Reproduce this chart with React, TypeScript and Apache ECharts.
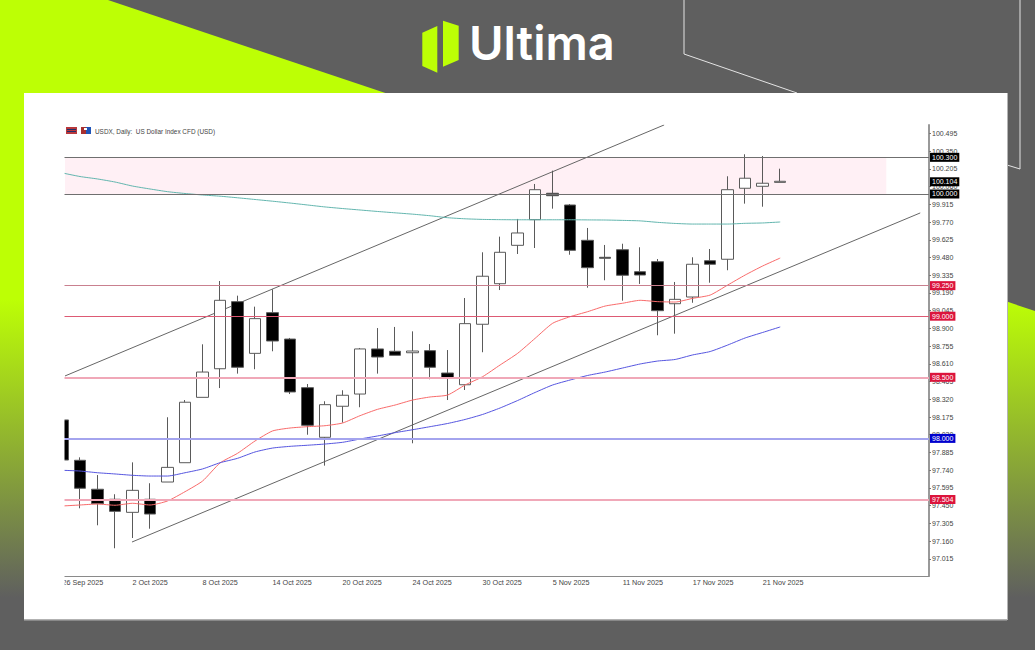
import React, { useEffect, useRef } from "react";
import * as echarts from "echarts";

const categories = [
  "26 Sep 2025","29 Sep 2025","30 Sep 2025","1 Oct 2025","2 Oct 2025","3 Oct 2025","6 Oct 2025","7 Oct 2025",
  "8 Oct 2025","9 Oct 2025","10 Oct 2025","13 Oct 2025","14 Oct 2025","15 Oct 2025","16 Oct 2025","17 Oct 2025",
  "20 Oct 2025","21 Oct 2025","22 Oct 2025","23 Oct 2025","24 Oct 2025","27 Oct 2025","28 Oct 2025","29 Oct 2025",
  "30 Oct 2025","31 Oct 2025","3 Nov 2025","4 Nov 2025","5 Nov 2025","6 Nov 2025","7 Nov 2025","10 Nov 2025",
  "11 Nov 2025","12 Nov 2025","13 Nov 2025","14 Nov 2025","17 Nov 2025","18 Nov 2025","19 Nov 2025","20 Nov 2025",
  "21 Nov 2025","24 Nov 2025","","","","","","","",""
];
const opens = [98.151,97.821,97.584,97.502,97.395,97.502,97.643,97.801,98.336,98.570,99.119,98.696,99.029,98.813,98.415,98.009,98.263,98.363,98.732,98.713,98.701,98.718,98.535,98.439,98.934,99.266,99.580,99.790,100.006,99.910,99.621,99.482,99.544,99.364,99.446,99.102,99.157,99.454,99.466,100.047,100.063,100.095];
const closes = [97.823,97.592,97.466,97.403,97.575,97.381,97.763,98.296,98.543,99.130,98.582,98.980,98.797,98.380,98.107,98.276,98.353,98.732,98.666,98.680,98.715,98.582,98.492,98.939,99.327,99.523,99.681,100.035,99.986,99.539,99.397,99.474,99.335,99.337,99.045,99.138,99.425,99.425,100.035,100.129,100.088,100.104];
const lows = [97.807,97.428,97.289,97.101,97.185,97.261,97.643,97.801,98.336,98.412,98.530,98.566,98.713,98.363,98.030,97.777,98.129,98.255,98.530,98.680,97.960,98.484,98.314,98.396,98.705,99.214,99.509,99.558,99.880,99.503,99.233,99.294,99.127,99.264,98.844,98.857,99.110,99.274,99.376,99.921,99.896,100.095];
const highs = [98.167,97.845,97.700,97.543,97.804,97.633,98.173,98.314,98.770,99.288,99.168,99.078,99.220,98.822,98.445,98.304,98.394,98.740,98.903,98.912,98.876,98.772,98.723,99.149,99.523,99.651,99.796,100.082,100.191,99.918,99.722,99.583,99.593,99.564,99.468,99.280,99.482,99.550,100.145,100.325,100.311,100.207];
const maRed = [97.447,97.455,97.463,97.453,97.469,97.455,97.488,97.564,97.651,97.799,97.878,97.979,98.061,98.085,98.096,98.104,98.126,98.186,98.238,98.273,98.314,98.339,98.355,98.437,98.505,98.601,98.696,98.819,98.942,98.996,99.037,99.083,99.106,99.130,99.119,99.116,99.146,99.173,99.255,99.337,99.411,99.476];
const maBlue = [97.739,97.733,97.719,97.709,97.698,97.692,97.692,97.719,97.750,97.801,97.837,97.889,97.921,97.935,97.944,97.954,97.968,97.995,98.020,98.047,98.071,98.096,98.122,98.155,98.196,98.249,98.310,98.376,98.437,98.478,98.515,98.543,98.576,98.609,98.633,98.646,98.683,98.711,98.764,98.822,98.867,98.912];
const maTeal = [100.172,100.143,100.123,100.098,100.065,100.041,100.019,100.004,99.992,99.982,99.969,99.955,99.941,99.926,99.910,99.894,99.881,99.869,99.857,99.846,99.835,99.822,99.806,99.797,99.792,99.790,99.789,99.789,99.789,99.789,99.788,99.787,99.784,99.780,99.768,99.759,99.754,99.754,99.754,99.760,99.763,99.771];
const yTicks = [100.495,100.35,100.205,100.06,99.915,99.77,99.625,99.48,99.335,99.19,99.045,98.9,98.755,98.61,98.465,98.32,98.175,98.03,97.885,97.74,97.595,97.45,97.305,97.16,97.015];
const levels = [100.3,100.104,100,99.25,99,98.5,98,97.504];
const levelLabels = ["100.300","100.104","100.000","99.250","99.000","98.500","98.000","97.504"];
const levelLineColors = ["#6f6f6f","transparent","#6f6f6f","#c9808f","#dd5a74","#f0a8b8","#a4a4ee","#f0a8b8"];
const levelLineWidths = [1,1,1,1,1,2,2,2];
const levelTagColors = ["#000000","#000000","#000000","#dc143c","#dc143c","#dc143c","#0000cd","#dc143c"];
const upperTrend = [[0.143,98.511],[34.37,100.565]];
const lowerTrend = [[3.97,97.152],[49.0,99.845]];
const zoneBox = [[0.143,100.3],[47.06,100]];
const title = "USDX, Daily:  US Dollar Index CFD (USD)";

const FONT = "Liberation Sans";
const GREY = "#5f5f5f";
const LIME = "#bdff05";

function buildOption() {
  const bandFill = new echarts.graphic.LinearGradient(0, 0, 0, 650, [
    { offset: 0, color: LIME },
    { offset: 0.46, color: LIME },
    { offset: 0.92, color: GREY },
    { offset: 1, color: GREY },
  ], true);
  const graphic = [
    { type: "rect", z: -20, shape: { x: 0, y: 0, width: 1035, height: 650 }, style: { fill: GREY } },
    { type: "polygon", z: -19, shape: { points: [[0,0],[108,0],[1035,311],[1035,650],[0,650]] }, style: { fill: bandFill } },
    { type: "polyline", z: -18, shape: { points: [[684,0],[684,54],[797,93]] }, style: { stroke: "#e4e4e4", lineWidth: 1, fill: "none" } },
    { type: "polyline", z: -18, shape: { points: [[1020,0],[1020,169],[1007,165]] }, style: { stroke: "#e4e4e4", lineWidth: 1, fill: "none" } },
    { type: "polygon", z: -17, shape: { points: [[422.3,32.7],[437.3,26],[437.3,72.7],[422.3,66]] }, style: { fill: LIME } },
    { type: "polygon", z: -17, shape: { points: [[443,20.7],[458.7,25.7],[458.7,60],[443,66.7]] }, style: { fill: LIME } },
    { type: "text", z: -17, x: 469, y: 65.5, style: { text: "Ultima", fill: "#ffffff", font: "600 47px Inter", textAlign: "left", textVerticalAlign: "bottom", textBaseline: "alphabetic" } },
    { type: "rect", z: -16, shape: { x: 24, y: 93, width: 983, height: 526.5 }, style: { fill: "#ffffff" } },
    { type: "line", z: -16, shape: { x1: 1007.5, y1: 93, x2: 1007.5, y2: 620 }, style: { stroke: "#b4b4b4", lineWidth: 1 } },
    { type: "line", z: -16, shape: { x1: 24, y1: 620, x2: 1007, y2: 620 }, style: { stroke: "#b4b4b4", lineWidth: 1 } },
    { type: "rect", z: 100, shape: { x: 40, y: 120, width: 24.5, height: 470 }, style: { fill: "#ffffff" } },
    { type: "rect", z: 101, shape: { x: 66, y: 127, width: 11, height: 7 }, style: { fill: "#b8383c" } },
    { type: "rect", z: 102, shape: { x: 67, y: 129, width: 9, height: 1 }, style: { fill: "#20306a" } },
    { type: "rect", z: 102, shape: { x: 67, y: 131, width: 9, height: 1 }, style: { fill: "#20306a" } },
    { type: "rect", z: 101, shape: { x: 81, y: 127, width: 5, height: 7 }, style: { fill: "#a8302f" } },
    { type: "rect", z: 101, shape: { x: 86, y: 127, width: 5, height: 7 }, style: { fill: "#1f54b8" } },
    { type: "rect", z: 102, shape: { x: 84, y: 128, width: 3, height: 2 }, style: { fill: "#ffffff" } },
    { type: "text", z: 101, x: 95, y: 131, style: { text: title, fill: "#444444", font: `6.4px ${FONT}`, textAlign: "left", textVerticalAlign: "middle" } },
  ];
  return {
    animation: false,
    backgroundColor: GREY,
    graphic,
    grid: { left: 53.75, right: 106, top: 125, bottom: 74 },
    xAxis: [
      {
        type: "category",
        data: categories,
        boundaryGap: true,
        axisLine: { onZero: false, lineStyle: { color: "#8a8a8a", width: 1 } },
        axisTick: { alignWithLabel: true, length: 3, lineStyle: { color: "#8a8a8a" }, interval: (i: number) => i % 4 === 0 && i <= 40 },
        axisLabel: { interval: (i: number) => i % 4 === 0 && i <= 40, align: "left", margin: 3, color: "#444444", fontFamily: FONT, fontSize: 7.2, hideOverlap: false },
        splitLine: { show: false },
      },
      { type: "value", min: -0.5, max: 49.5, show: false, splitLine: { show: false } },
    ],
    yAxis: {
      type: "value",
      position: "right",
      min: 96.874,
      max: 100.5646,
      axisLine: { show: true, onZero: false, lineStyle: { color: "#999999", width: 2 } },
      axisTick: { show: true, length: 2, lineStyle: { color: "#777777" }, customValues: yTicks },
      axisLabel: { color: "#444444", fontFamily: FONT, fontSize: 7, margin: 3, customValues: yTicks, formatter: (v: number) => v.toFixed(3) },
      splitLine: { show: false },
    },
    series: [
      {
        name: "Levels",
        type: "line",
        xAxisIndex: 1,
        data: upperTrend,
        z: 2,
        symbol: "none",
        lineStyle: { color: "#666666", width: 1 },
        markArea: {
          silent: true,
          itemStyle: { color: "#fff0f5" },
          data: [[{ coord: zoneBox[0] }, { coord: zoneBox[1] }]],
        },
        markLine: {
          silent: true,
          symbol: "none",
          animation: false,
          data: levels.map((v, i) => ({
            yAxis: v,
            lineStyle: { color: levelLineColors[i], width: levelLineWidths[i], type: "solid", opacity: 1 },
            label: {
              show: true,
              position: "end",
              distance: 1,
              formatter: levelLabels[i],
              color: "#ffffff",
              backgroundColor: levelTagColors[i],
              padding: [1, 2],
              fontFamily: FONT,
              fontSize: 7,
            },
          })),
        },
      },
      {
        name: "Lower trend",
        type: "line",
        xAxisIndex: 1,
        data: lowerTrend,
        z: 2,
        symbol: "none",
        lineStyle: { color: "#666666", width: 1 },
      },
      {
        name: "USDX",
        type: "candlestick",
        data: opens.map((o, i) => [o, closes[i], lows[i], highs[i]]),
        barWidth: 12,
        z: 3,
        itemStyle: {
          color: "#ffffff",
          color0: "#000000",
          borderColor: "#5a5a5a",
          borderColor0: "#5a5a5a",
          borderColorDoji: "#5a5a5a",
          borderWidth: 1,
        },
      },
      { name: "MA red", type: "line", data: maRed, z: 4, symbol: "none", smooth: 0.2, lineStyle: { color: "#f96a6a", width: 1 } },
      { name: "MA blue", type: "line", data: maBlue, z: 4, symbol: "none", smooth: 0.2, lineStyle: { color: "#5555e0", width: 1 } },
      { name: "MA teal", type: "line", data: maTeal, z: 4, symbol: "none", smooth: 0.2, lineStyle: { color: "#62b5ae", width: 1 } },
    ],
  };
}

export default function App() {
  const ref = useRef<HTMLDivElement>(null);
  useEffect(() => {
    const chart = echarts.init(ref.current!, null, { renderer: "svg" });
    chart.setOption(buildOption() as any);
    return () => chart.dispose();
  }, []);
  return <div ref={ref} style={{ position: "absolute", left: 0, top: 0, width: 1035, height: 650 }} />;
}
